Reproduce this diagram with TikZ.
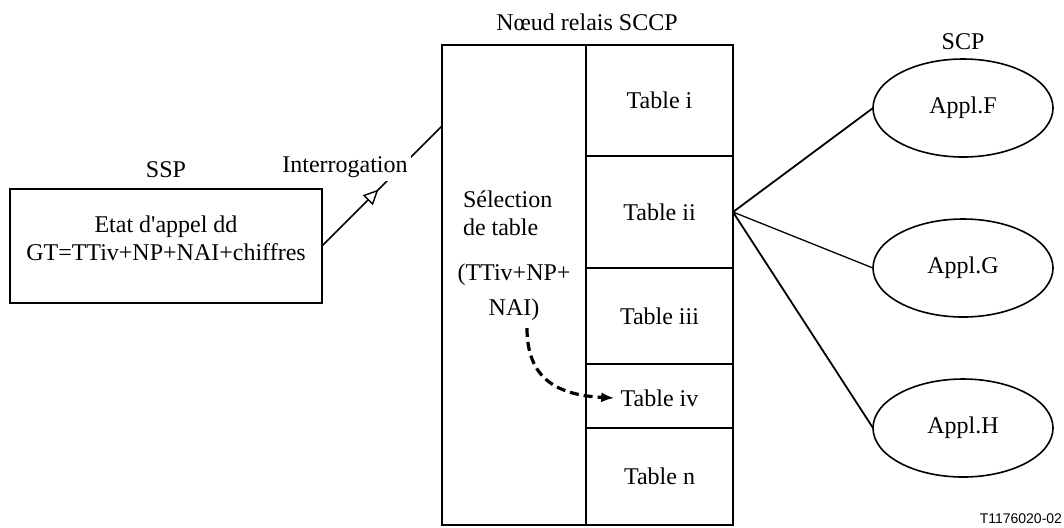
\documentclass[tikz,border=0pt]{standalone}
\usepackage{fontspec}
\setmainfont{Liberation Serif}
\newfontfamily\labelsans{Liberation Sans}
\usetikzlibrary{shapes.geometric,arrows.meta,decorations.markings}
\begin{document}
\begin{tikzpicture}[x=0.5pt,y=-0.5pt,
  font=\fontsize{12}{14}\selectfont,
  box/.style={draw, line width=0.8pt, inner sep=0pt, outer sep=0pt},
  cellbox/.style={box, minimum width=73.5pt},
  app/.style={draw, ellipse, line width=0.8pt, minimum width=90pt, minimum height=49pt, inner sep=0pt, outer sep=0pt},
  lbl/.style={inner sep=0pt, outer sep=0pt},
  thicklink/.style={line width=0.9pt},
  thinlink/.style={line width=0.65pt},
  query/.style={line width=0.8pt, postaction={decorate},
    decoration={markings, mark=at position 0.47 with {\arrow{Triangle[fill=white, length=7.5pt, width=7pt, line width=0.7pt]}}}},
  seldash/.style={line width=1.6pt, dash pattern=on 4.5pt off 2.5pt, -{Latex[length=6.5pt,width=5pt]}}
]
\useasboundingbox (0,0) rectangle (1064,527);

% SSP
\node[box, minimum width=156pt, minimum height=57pt] (ssp) at (166,246) {};
\node[lbl, align=center] (ssptext) at (166,238) {Etat d\textquotesingle appel dd\\GT=TTiv+NP+NAI+chiffres};
\node[lbl] (ssplbl) at (166,170) {SSP};

% SCCP relay node
\node[lbl] (title) at (587,22) {Nœud relais SCCP};
\node[box, minimum width=72pt, minimum height=240pt] (sel) at (514,285) {};
\node[cellbox, minimum height=55.5pt] (ti) at (659.5,100.5) {Table i};
\node[cellbox, minimum height=56pt] (tii) at (659.5,212) {Table ii};
\node[cellbox, minimum height=48pt] (tiii) at (659.5,316) {Table iii};
\node[cellbox, minimum height=32pt] (tiv) at (659.5,396) {};
\node[inner sep=3pt] (tivtext) at (659.5,398) {Table iv};
\node[cellbox, minimum height=48.5pt] (tn) at (659.5,476.5) {Table n};

\node[lbl, align=left, anchor=west] (sela) at (463,213) {Sélection\\de table};
\node[lbl, align=center] (selb) at (514,292) {(TTiv+NP+\\[3.5pt]NAI)};

% SCP
\node[lbl] (scp) at (963,42) {SCP};
\node[app] (F) at (963,108) {Appl.F};
\node[app] (G) at (963,268) {Appl.G};
\node[app] (H) at (963,428) {Appl.H};

% connectors
\coordinate (qin) at (442,126);
\draw[query] (ssp.east) -- (qin);
\node[lbl, fill=white, inner sep=1.5pt] (interr) at (345,167) {Interrogation};

\draw[thicklink] (tii.east) -- (F.west);
\draw[thinlink] (tii.east) -- (G.west);
\draw[thicklink] (tii.east) -- (H.west);

\coordinate (dstart) at (527,328);
\draw[seldash] (dstart) .. controls (527,378) and (556,395) .. (tivtext.west);

\node[lbl, font=\labelsans\fontsize{7}{8}\selectfont, anchor=east] (ref) at (1062,519) {T1176020-02};
\end{tikzpicture}
\end{document}
